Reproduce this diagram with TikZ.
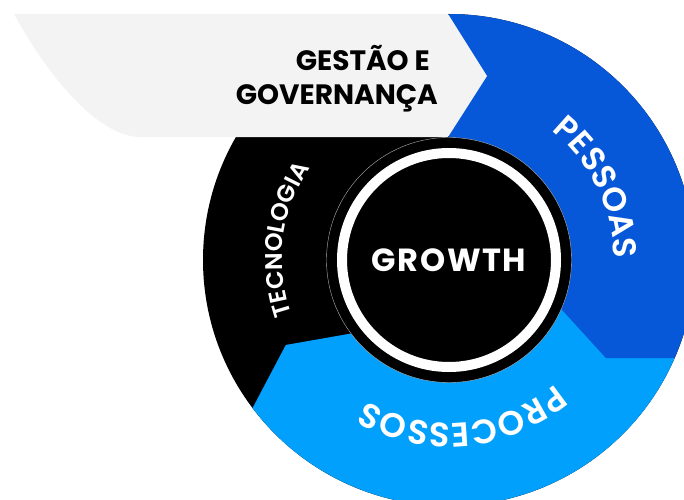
\documentclass[tikz,border=0pt]{standalone}
\usepackage{fontspec}
\setmainfont{Poppins}
\newfontfamily\popsemi{Poppins SemiBold}
\newfontfamily\popsemiwide{Poppins SemiBold}[LetterSpace=9]
\newfontfamily\popbold{Poppins Bold}
\newfontfamily\popboldwide{Poppins Bold}[LetterSpace=5]
\usetikzlibrary{calc,decorations.text}
\definecolor{bannergray}{HTML}{F3F3F3}
\definecolor{peopleblue}{HTML}{0658D9}
\definecolor{processblue}{HTML}{02A0FD}

\begin{document}
\begin{tikzpicture}[x=1pt,y=1pt,
  ringlabel/.style={decorate, decoration={text along path, text align=center, text color=white}},
  hub/.style={circle, fill=black, draw=gray!60, line width=0.4pt, minimum size=245pt, inner sep=0pt,
              text=white, font=\popboldwide\fontsize{32pt}{32pt}\selectfont}]
\useasboundingbox (0,0) rectangle (684,499);
\coordinate (C) at (449,239);

% ring base (black segment: TECNOLOGIA)
\fill[black] (C) circle[radius=246pt];

% PROCESSOS segment, its tip pointing into the black segment
\fill[processblue] ($(C)+(-23.5:246pt)$) arc[start angle=-23.5, end angle=-143, radius=246pt]
  -- ($(C)+(-152.5:184pt)$) -- ($(C)+(-143:122pt)$)
  arc[start angle=-143, end angle=-23.5, radius=122pt] -- cycle;

% PESSOAS segment, its tip pointing into PROCESSOS
\fill[peopleblue] ($(C)+(90:246pt)$) arc[start angle=90, end angle=-23.5, radius=246pt]
  -- ($(C)+(-32:185pt)$) -- ($(C)+(-23.5:122pt)$)
  arc[start angle=-23.5, end angle=90, radius=122pt] -- cycle;

% GESTAO E GOVERNANCA banner
\fill[bannergray] (14,485) -- (448,485) -- (487,423) -- (448,362) -- (140,362)
  .. controls (100,362) and (50,419) .. (14,485) -- cycle;
\node[anchor=east, align=right, inner sep=0pt, text=black,
      font=\popbold\fontsize{28pt}{34pt}\selectfont] (gestao) at (438,420)
  {GESTÃO E\kern8pt\\GOVERNANÇA};

% hub
\node[hub] (growth) at (C) {GROWTH};
\draw[white, line width=10pt] (growth.center) circle[radius=107pt];

% curved segment labels
\path[ringlabel, decoration={text={|\popsemi\fontsize{33pt}{33pt}\selectfont|PESSOAS}}]
  ($(C)+(86:165pt)$) arc[start angle=86, end angle=-34, radius=165pt];
\path[ringlabel, decoration={text={|\popsemiwide\fontsize{34pt}{34pt}\selectfont|PROCESSOS}}]
  ($(C)+(-25:163pt)$) arc[start angle=-25, end angle=-145, radius=163pt];
\path[ringlabel, decoration={text={|\popsemi\fontsize{24pt}{24pt}\selectfont|TECNOLOGIA}}]
  ($(C)+(232.7:167pt)$) arc[start angle=232.7, end angle=112.7, radius=167pt];
\end{tikzpicture}
\end{document}
